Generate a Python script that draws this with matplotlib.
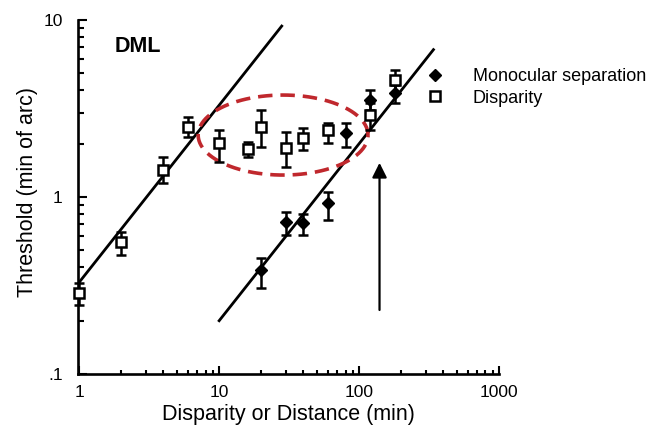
import numpy as np
import matplotlib
matplotlib.use("Agg")
import matplotlib.pyplot as plt
from matplotlib.lines import Line2D

plt.rcParams['font.family'] = ['Liberation Sans', 'DejaVu Sans']

# disparity thresholds (open squares)
disp_x = [1, 2, 4, 6, 10, 16, 20, 30, 40, 60, 120, 180]
disp_y = [0.287, 0.557, 1.42, 2.49, 2.02, 1.87, 2.49, 1.89, 2.15, 2.39, 2.9, 4.58]
disp_lo = [0.245, 0.47, 1.2, 2.18, 1.58, 1.68, 1.92, 1.48, 1.84, 2.02, 2.4, 3.87]
disp_hi = [0.327, 0.634, 1.68, 2.83, 2.39, 2.04, 3.1, 2.33, 2.45, 2.62, 3.4, 5.2]

# monocular separation thresholds (filled diamonds)
mono_x = [20, 30, 40, 60, 80, 120, 180]
mono_y = [0.387, 0.72, 0.71, 0.925, 2.3, 3.53, 3.87]
mono_lo = [0.306, 0.61, 0.61, 0.74, 1.92, 3.1, 3.39]
mono_hi = [0.45, 0.82, 0.8, 1.07, 2.62, 4.02, 4.3]

# unit-slope reference lines
line_a_x = [1.0, 28.0]
line_a_y = [0.33, 9.24]
line_b_x = [10.0, 340.0]
line_b_y = [0.2, 6.8]

# arrow marking the crossover
arrow_x = 140
arrow_y0, arrow_y1 = 0.23, 1.56

# dashed outline around the flat part of the disparity curve (log units)
ell_cx, ell_cy = 1.457, 0.35
ell_rx, ell_ry = 0.607, 0.226

fig = plt.figure(figsize=(6.61, 4.33), dpi=100)
ax = fig.add_axes([78 / 661, 59 / 433, 421 / 661, 354 / 433])
ax.set_xscale('log')
ax.set_yscale('log')
ax.set_xlim(0.98, 1000)
ax.set_ylim(0.1, 10)

ax.plot(line_a_x, line_a_y, color='black', lw=2, zorder=2)
ax.plot(line_b_x, line_b_y, color='black', lw=2, zorder=2)

dy = np.array(disp_y)
ax.errorbar(disp_x, disp_y,
            yerr=[dy - np.array(disp_lo), np.array(disp_hi) - dy],
            fmt='s', ms=6.5, mfc='white', mec='black', mew=1.8,
            ecolor='black', elinewidth=1.8, capsize=3.5, capthick=1.8,
            zorder=4, clip_on=False)
my = np.array(mono_y)
ax.errorbar(mono_x, mono_y,
            yerr=[my - np.array(mono_lo), np.array(mono_hi) - my],
            fmt='D', ms=6, mfc='black', mec='black',
            ecolor='black', elinewidth=1.8, capsize=3.5, capthick=1.8,
            zorder=4)

t = np.linspace(0, 2 * np.pi, 200)
ax.plot(10 ** (ell_cx + ell_rx * np.cos(t)), 10 ** (ell_cy + ell_ry * np.sin(t)),
        color='#c0282d', lw=2.6, dashes=(4, 2.2), zorder=3)

ax.annotate('', xy=(arrow_x, arrow_y1), xytext=(arrow_x, arrow_y0),
            arrowprops=dict(arrowstyle='-|>', color='black', lw=1.6,
                            mutation_scale=22, shrinkA=0, shrinkB=0))

ax.text(0.087, 0.924, 'DML', transform=ax.transAxes, fontsize=15.5,
        fontweight='bold', va='center', ha='left')

for s in ('top', 'right'):
    ax.spines[s].set_visible(False)
for s in ('left', 'bottom'):
    ax.spines[s].set_linewidth(1.9)

ax.set_xticks([1, 10, 100, 1000], ['1', '10', '100', '1000'])
ax.set_yticks([0.1, 1, 10], ['.1', '1', '10'])
ax.tick_params(which='both', direction='in', width=1.5, labelsize=12.5)
ax.tick_params(axis='y', which='major', length=6.5, pad=11)
ax.tick_params(axis='y', which='minor', length=4)
ax.tick_params(axis='x', which='major', length=5.5, pad=8)
ax.tick_params(axis='x', which='minor', length=3)

ax.set_xlabel('Disparity or Distance (min)', fontsize=15.5, labelpad=3)
ax.set_ylabel('Threshold (min of arc)', fontsize=15.5)
ax.yaxis.set_label_coords(-0.095, 0.514)

handles = [Line2D([], [], ls='none', marker='D', ms=6, color='black'),
           Line2D([], [], ls='none', marker='s', ms=6.5, mfc='white',
                  mec='black', mew=1.8)]
ax.legend(handles, ['Monocular separation', 'Disparity'],
          loc='upper left', bbox_to_anchor=(426 / 661, 365 / 433),
          bbox_transform=fig.transFigure, frameon=False, fontsize=13,
          handlelength=1.0, handletextpad=1.6, labelspacing=0.25,
          borderpad=0, borderaxespad=0)

fig.savefig('out.png', dpi=100)
